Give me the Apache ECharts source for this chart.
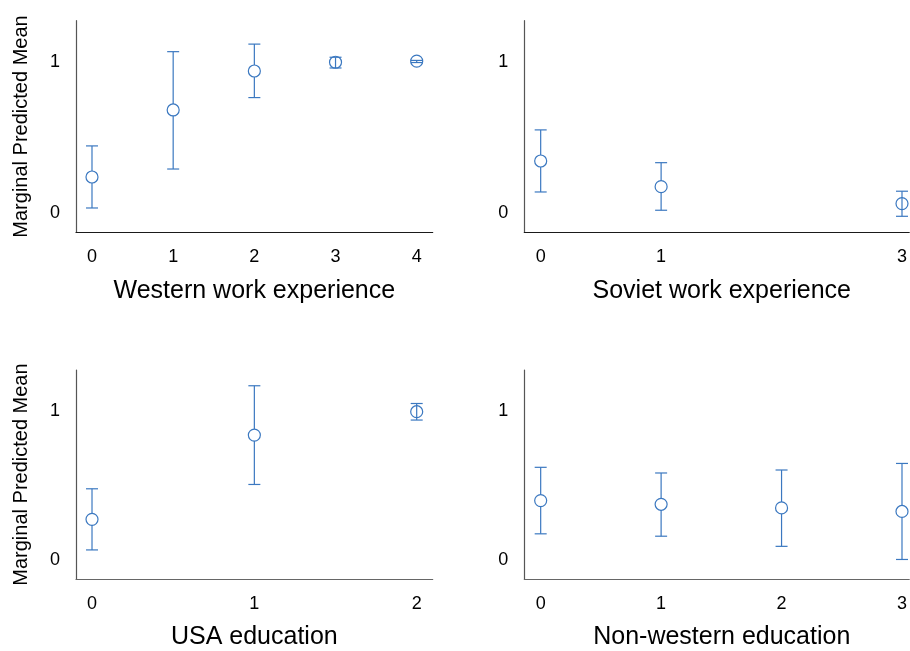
<!DOCTYPE html>
<html>
<head>
<meta charset="utf-8">
<script src="https://cdn.jsdelivr.net/npm/echarts@6/dist/echarts.min.js"></script>
<style>
html,body{margin:0;padding:0;background:#fff;}
#chart{width:910px;height:651px;}
</style>
</head>
<body>
<div id="chart"></div>
<script>
// ---- data ----
const yTicks = [0, 1];

const westX = [0, 1, 2, 3, 4];
const westMean = [0.24, 0.684, 0.942, 1.0, 1.007];
const westLow = [0.035, 0.293, 0.766, 0.962, 0.998];
const westHigh = [0.446, 1.07, 1.12, 1.033, 1.012];
const westTicks = [0, 1, 2, 3, 4];

const sovietX = [0, 1, 3];
const sovietMean = [0.346, 0.176, 0.064];
const sovietLow = [0.141, 0.02, -0.02];
const sovietHigh = [0.552, 0.335, 0.146];
const sovietTicks = [0, 1, 3];

const usaX = [0, 1, 2];
const usaMean = [0.274, 0.839, 0.996];
const usaLow = [0.069, 0.508, 0.940];
const usaHigh = [0.479, 1.17, 1.051];
const usaTicks = [0, 1, 2];

const nonwX = [0, 1, 2, 3];
const nonwMean = [0.40, 0.375, 0.351, 0.327];
const nonwLow = [0.177, 0.161, 0.093, 0.005];
const nonwHigh = [0.623, 0.585, 0.605, 0.649];
const nonwTicks = [0, 1, 2, 3];

const titles = ['Western work experience', 'Soviet work experience', 'USA education', 'Non-western education'];
const yName = 'Marginal Predicted Mean';

// ---- build ----
const BLUE = '#3b78c0';
const FONT = 'Liberation Sans, Arial, Helvetica, sans-serif';

const panels = [
  {x: westX, m: westMean, lo: westLow, hi: westHigh, ticks: westTicks, min: -0.197, max: 4.197,
   grid: {left: 76, top: 20.7, width: 356.7, height: 211.6}, yname: true, xcol: '#1a1a1a', pad: 0},
  {x: sovietX, m: sovietMean, lo: sovietLow, hi: sovietHigh, ticks: sovietTicks, min: -0.136, max: 3.06,
   grid: {left: 524.3, top: 20.7, width: 385.7, height: 211.6}, yname: false, xcol: '#1a1a1a', pad: 10},
  {x: usaX, m: usaMean, lo: usaLow, hi: usaHigh, ticks: usaTicks, min: -0.0986, max: 2.0986,
   grid: {left: 76, top: 370.1, width: 356.7, height: 211.6}, yname: true, xcol: '#666', pad: 0},
  {x: nonwX, m: nonwMean, lo: nonwLow, hi: nonwHigh, ticks: nonwTicks, min: -0.136, max: 3.06,
   grid: {left: 524.3, top: 370.1, width: 385.7, height: 211.6}, yname: false, xcol: '#666', pad: 10}
];

const grids = [], xAxes = [], yAxes = [], series = [];
panels.forEach((p, i) => {
  grids.push(Object.assign({containLabel: false}, p.grid));
  xAxes.push({
    type: 'value', gridIndex: i, min: p.min, max: p.max,
    axisLine: {show: true, onZero: false, lineStyle: {color: p.xcol, width: 1.2}},
    axisTick: {show: false},
    splitLine: {show: false},
    axisLabel: {customValues: p.ticks, margin: 16, fontSize: 18, color: '#000', fontFamily: FONT,
      formatter: v => String(v)},
    name: titles[i], nameLocation: 'middle', nameGap: 46,
    nameTextStyle: {fontSize: 25, color: '#000', fontFamily: FONT, padding: [0, 0, 0, p.pad]}
  });
  yAxes.push({
    type: 'value', gridIndex: i, min: -0.126, max: 1.275,
    axisLine: {show: true, onZero: false, lineStyle: {color: '#555', width: 1.2}},
    axisTick: {show: false},
    splitLine: {show: false},
    axisLabel: {customValues: yTicks, margin: 16, fontSize: 18, color: '#000', fontFamily: FONT,
      formatter: v => String(v)},
    name: p.yname ? yName : '', nameLocation: 'middle', nameGap: 45,
    nameTextStyle: {fontSize: 20, color: '#000', fontFamily: FONT}
  });
  const data = p.x.map((x, k) => [x, p.m[k], p.lo[k], p.hi[k]]);
  series.push({
    type: 'custom', xAxisIndex: i, yAxisIndex: i, data: data, clip: false,
    renderItem: function (params, api) {
      const x = api.value(0), m = api.value(1), lo = api.value(2), hi = api.value(3);
      const pm = api.coord([x, m]), pl = api.coord([x, lo]), ph = api.coord([x, hi]);
      const w = 6, r = 6;
      const st = {stroke: BLUE, lineWidth: 1.2, fill: null};
      const bar = [
        {type: 'line', shape: {x1: pl[0], y1: pl[1], x2: ph[0], y2: ph[1]}, style: st},
        {type: 'line', shape: {x1: pl[0] - w, y1: pl[1], x2: pl[0] + w, y2: pl[1]}, style: st},
        {type: 'line', shape: {x1: ph[0] - w, y1: ph[1], x2: ph[0] + w, y2: ph[1]}, style: st}
      ];
      const circ = {type: 'circle', shape: {cx: pm[0], cy: pm[1], r: r}, style: {stroke: BLUE, lineWidth: 1.2, fill: '#fff'}};
      let children;
      if (Math.abs(pl[1] - ph[1]) < 35) {
        children = [circ].concat(bar);
      } else {
        children = bar.concat([circ]);
      }
      return {type: 'group', children: children};
    }
  });
});

const chart = echarts.init(document.getElementById('chart'), null, {renderer: 'canvas'});
chart.setOption({
  animation: false,
  backgroundColor: '#fff',
  textStyle: {fontFamily: FONT},
  grid: grids, xAxis: xAxes, yAxis: yAxes, series: series
});
</script>
</body>
</html>
